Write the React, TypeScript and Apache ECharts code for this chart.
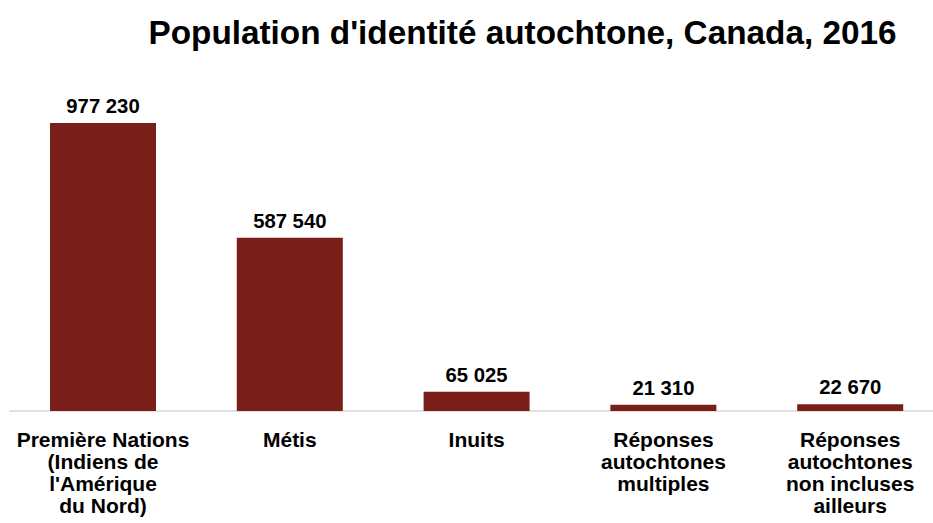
import React, { useEffect, useRef } from "react";
import * as echarts from "echarts";

const categories = [
  "Première Nations\n(Indiens de\nl'Amérique\ndu Nord)",
  "Métis",
  "Inuits",
  "Réponses\nautochtones\nmultiples",
  "Réponses\nautochtones\nnon incluses\nailleurs",
];
const values = [977230, 587540, 65025, 21310, 22670];
const title = "Population d'identité autochtone, Canada, 2016";

const fmt = (v: number) => String(v).replace(/\B(?=(\d{3})+(?!\d))/g, " ");

export default function App() {
  const ref = useRef<HTMLDivElement>(null);
  useEffect(() => {
    const chart = echarts.init(ref.current!, null, { renderer: "svg" });
    chart.setOption({
      animation: false,
      backgroundColor: "#ffffff",
      textStyle: { fontFamily: "Liberation Sans, Arial, sans-serif" },
      title: {
        text: title,
        left: 517.5,
        top: 11,
        textAlign: "center",
        textStyle: {
          fontFamily: "Liberation Sans, Arial, sans-serif",
          fontSize: 33.3,
          fontWeight: "bold",
          color: "#000000",
        },
      },
      grid: { left: 9.6, width: 934, top: 116.3, bottom: 112, containLabel: false },
      xAxis: {
        type: "category",
        data: categories,
        axisLine: { show: true, lineStyle: { color: "#d9d9d9", width: 1.5 } },
        axisTick: { show: false },
        axisLabel: {
          interval: 0,
          margin: 17,
          fontSize: 21,
          lineHeight: 22,
          fontWeight: "bold",
          color: "#000000",
          fontFamily: "Liberation Sans, Arial, sans-serif",
        },
      },
      yAxis: {
        type: "value",
        min: 0,
        max: 1000000,
        show: false,
        splitLine: { show: false },
      },
      series: [
        {
          type: "bar",
          data: values,
          barWidth: 106,
          itemStyle: { color: "#7a1e19" },
          label: {
            show: true,
            position: "top",
            distance: 7,
            fontSize: 20.3,
            fontWeight: "bold",
            color: "#000000",
            fontFamily: "Liberation Sans, Arial, sans-serif",
            formatter: (p: any) => fmt(p.value),
          },
        },
      ],
    });
    return () => chart.dispose();
  }, []);
  return (
    <div style={{ position: "fixed", left: 0, top: 0, width: 933, height: 523, overflow: "hidden" }}>
      <div ref={ref} style={{ width: 950, height: 523 }} />
    </div>
  );
}
